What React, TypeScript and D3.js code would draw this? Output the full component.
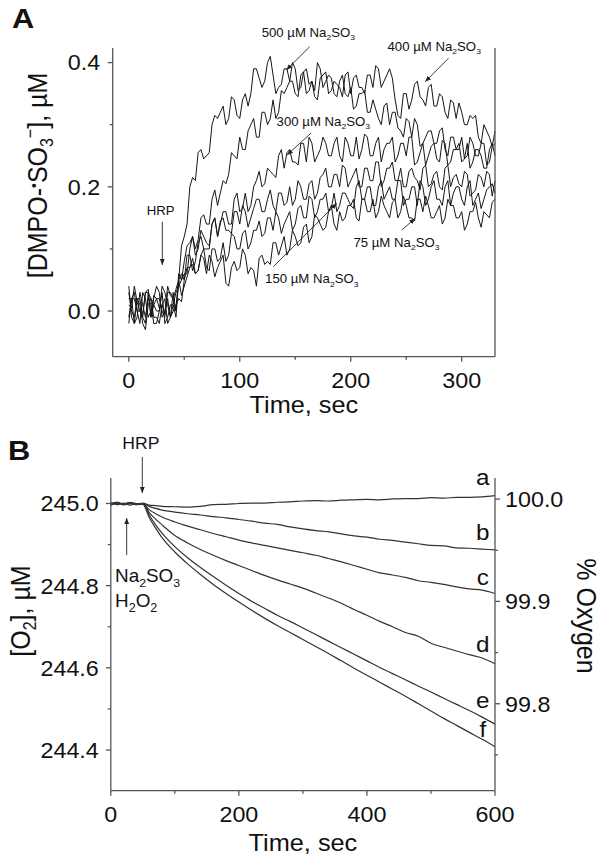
import React from "react";
import * as d3 from "d3";

// ---------- Panel A : DMPO-SO3 radical vs time (sec) ----------
// readings on the 5 s grid
const tA = [
  0, 5, 10, 15, 20, 25, 30, 35, 40, 45,
  50, 55, 60, 65, 70, 75, 80, 85, 90, 95,
  100, 105, 110, 115, 120, 125, 130, 135, 140, 145,
  150, 155, 160, 165, 170, 175, 180, 185, 190, 195,
  200, 205, 210, 215, 220, 225, 230, 235, 240, 245,
  250, 255, 260, 265, 270, 275, 280, 285, 290, 295,
  300, 305, 310, 315, 320, 325, 330,
];
// readings between the grid points (the noise of the traces)
const tAh = [
  2.5, 7.5, 12.5, 17.5, 22.5, 27.5, 32.5, 37.5, 42.5, 47.5,
  52.5, 57.5, 62.5, 67.5, 72.5, 77.5, 82.5, 87.5, 92.5, 97.5,
  102.5, 107.5, 112.5, 117.5, 122.5, 127.5, 132.5, 137.5, 142.5, 147.5,
  152.5, 157.5, 162.5, 167.5, 172.5, 177.5, 182.5, 187.5, 192.5, 197.5,
  202.5, 207.5, 212.5, 217.5, 222.5, 227.5, 232.5, 237.5, 242.5, 247.5,
  252.5, 257.5, 262.5, 267.5, 272.5, 277.5, 282.5, 287.5, 292.5, 297.5,
  302.5, 307.5, 312.5, 317.5, 322.5, 327.5,
];

const c500 = [
  0.02, -0.02, 0.03, -0.01, 0.01, -0.02, 0.03, -0.01, 0.01, 0.05,
  0.12, 0.2, 0.21, 0.26, 0.25, 0.3, 0.31, 0.33, 0.31, 0.34,
  0.31, 0.35, 0.35, 0.39, 0.36, 0.4, 0.38, 0.36, 0.39, 0.37,
  0.39, 0.36, 0.39, 0.37, 0.4, 0.36, 0.38, 0.35, 0.37, 0.35,
  0.36, 0.33, 0.35, 0.32, 0.34, 0.31, 0.33, 0.3, 0.32, 0.29,
  0.31, 0.28, 0.3, 0.27, 0.29, 0.27, 0.29, 0.26, 0.28, 0.26,
  0.28, 0.25, 0.27, 0.25, 0.27, 0.24, 0.27,
];
const c500h = [
  0.02, -0.01, 0.01, 0.02, -0.02, 0.0, -0.02, 0.01, -0.01, 0.105,
  0.14, 0.215, 0.255, 0.245, 0.255, 0.315, 0.32, 0.3, 0.345, 0.315,
  0.34, 0.33, 0.39, 0.375, 0.37, 0.41, 0.35, 0.365, 0.39, 0.4,
  0.355, 0.385, 0.365, 0.355, 0.39, 0.37, 0.375, 0.345, 0.38, 0.345,
  0.325, 0.35, 0.355, 0.32, 0.325, 0.3, 0.335, 0.32, 0.295, 0.28,
  0.305, 0.31, 0.265, 0.28, 0.29, 0.27, 0.295, 0.25, 0.28, 0.26,
  0.245, 0.28, 0.25, 0.27, 0.235, 0.265,
];
const c400 = [
  -0.01, 0.03, -0.02, 0.02, 0.0, 0.04, -0.01, 0.02, 0.01, 0.04,
  0.06, 0.1, 0.1, 0.15, 0.14, 0.18, 0.17, 0.21, 0.22, 0.25,
  0.28, 0.26, 0.3, 0.28, 0.32, 0.3, 0.34, 0.32, 0.35, 0.37,
  0.35, 0.38, 0.35, 0.37, 0.34, 0.38, 0.35, 0.37, 0.36, 0.38,
  0.35, 0.38, 0.36, 0.38, 0.36, 0.39, 0.37, 0.39, 0.34, 0.31,
  0.35, 0.34, 0.37, 0.34, 0.36, 0.33, 0.35, 0.32, 0.34, 0.31,
  0.32, 0.3, 0.31, 0.28, 0.3, 0.28, 0.29,
];
const c400h = [
  0.02, 0.0, 0.03, -0.01, 0.02, 0.03, 0.0, -0.01, 0.03, 0.05,
  0.06, 0.12, 0.115, 0.155, 0.14, 0.195, 0.19, 0.205, 0.255, 0.245,
  0.26, 0.29, 0.31, 0.28, 0.32, 0.31, 0.31, 0.355, 0.36, 0.37,
  0.345, 0.385, 0.355, 0.345, 0.375, 0.385, 0.355, 0.365, 0.345, 0.385,
  0.375, 0.36, 0.35, 0.38, 0.395, 0.36, 0.38, 0.375, 0.315, 0.35,
  0.325, 0.365, 0.345, 0.33, 0.365, 0.33, 0.345, 0.31, 0.335, 0.335,
  0.3, 0.315, 0.315, 0.27, 0.29, 0.265,
];
const c300 = [
  0.03, -0.01, 0.02, -0.02, 0.02, 0.0, 0.04, 0.01, 0.03, 0.05,
  0.05, 0.09, 0.08, 0.12, 0.1, 0.14, 0.12, 0.16, 0.14, 0.18,
  0.16, 0.19, 0.17, 0.21, 0.2, 0.23, 0.22, 0.25, 0.23, 0.26,
  0.24, 0.27, 0.24, 0.27, 0.25, 0.28, 0.25, 0.27, 0.25, 0.28,
  0.25, 0.28, 0.26, 0.28, 0.25, 0.28, 0.26, 0.27, 0.24, 0.27,
  0.25, 0.28, 0.24, 0.27, 0.25, 0.27, 0.24, 0.27, 0.24, 0.26,
  0.24, 0.27, 0.24, 0.26, 0.23, 0.26, 0.25,
];
const c300h = [
  0.0, 0.02, -0.01, 0.03, 0.01, 0.0, 0.03, -0.01, 0.0, 0.06,
  0.09, 0.065, 0.11, 0.1, 0.1, 0.15, 0.14, 0.16, 0.14, 0.19,
  0.165, 0.16, 0.2, 0.225, 0.205, 0.225, 0.215, 0.26, 0.255, 0.24,
  0.235, 0.27, 0.28, 0.24, 0.26, 0.27, 0.25, 0.28, 0.24, 0.27,
  0.25, 0.245, 0.285, 0.25, 0.27, 0.24, 0.27, 0.28, 0.25, 0.27,
  0.28, 0.235, 0.255, 0.235, 0.265, 0.245, 0.275, 0.235, 0.26, 0.27,
  0.245, 0.23, 0.26, 0.25, 0.23, 0.27,
];
const c200 = [
  -0.02, 0.02, 0.0, 0.03, -0.01, 0.02, 0.0, 0.03, 0.02, 0.06,
  0.08, 0.11, 0.09, 0.13, 0.11, 0.14, 0.12, 0.15, 0.13, 0.16,
  0.14, 0.16, 0.15, 0.18, 0.16, 0.18, 0.17, 0.19, 0.17, 0.2,
  0.18, 0.2, 0.18, 0.21, 0.19, 0.22, 0.2, 0.22, 0.2, 0.23,
  0.21, 0.23, 0.2, 0.23, 0.21, 0.24, 0.21, 0.23, 0.21, 0.23,
  0.2, 0.23, 0.21, 0.23, 0.2, 0.22, 0.2, 0.23, 0.2, 0.22,
  0.2, 0.22, 0.19, 0.22, 0.2, 0.22, 0.21,
];
const c200h = [
  0.02, 0.0, -0.01, 0.03, 0.01, 0.02, -0.01, 0.03, 0.0, 0.05,
  0.105, 0.12, 0.1, 0.12, 0.105, 0.15, 0.145, 0.13, 0.125, 0.16,
  0.17, 0.135, 0.165, 0.18, 0.16, 0.195, 0.16, 0.19, 0.175, 0.17,
  0.21, 0.18, 0.205, 0.18, 0.215, 0.23, 0.2, 0.22, 0.235, 0.2,
  0.22, 0.2, 0.23, 0.21, 0.24, 0.2, 0.23, 0.24, 0.21, 0.2,
  0.225, 0.215, 0.195, 0.235, 0.205, 0.225, 0.195, 0.235, 0.215, 0.205,
  0.225, 0.185, 0.195, 0.215, 0.225, 0.185,
];
const c150 = [
  0.01, 0.04, 0.0, 0.03, -0.01, 0.02, 0.01, 0.04, 0.02, 0.05,
  0.04, 0.07, 0.06, 0.09, 0.07, 0.1, 0.08, 0.11, 0.09, 0.12,
  0.1, 0.13, 0.11, 0.13, 0.12, 0.15, 0.13, 0.15, 0.14, 0.16,
  0.14, 0.17, 0.15, 0.18, 0.16, 0.18, 0.16, 0.19, 0.17, 0.19,
  0.17, 0.2, 0.18, 0.2, 0.17, 0.2, 0.18, 0.2, 0.18, 0.21,
  0.18, 0.2, 0.17, 0.2, 0.18, 0.21, 0.18, 0.2, 0.17, 0.2,
  0.18, 0.2, 0.17, 0.19, 0.18, 0.2, 0.19,
];
const c150h = [
  0.005, 0.015, -0.005, 0.035, 0.025, 0.005, -0.005, 0.025, 0.035, 0.025,
  0.055, 0.075, 0.065, 0.1, 0.065, 0.1, 0.085, 0.08, 0.125, 0.1,
  0.125, 0.1, 0.13, 0.145, 0.125, 0.15, 0.16, 0.125, 0.15, 0.13,
  0.165, 0.15, 0.185, 0.15, 0.18, 0.19, 0.165, 0.16, 0.19, 0.18,
  0.165, 0.21, 0.18, 0.2, 0.17, 0.21, 0.19, 0.18, 0.21, 0.17,
  0.18, 0.2, 0.21, 0.17, 0.2, 0.18, 0.17, 0.21, 0.19, 0.2,
  0.17, 0.21, 0.18, 0.165, 0.195, 0.205,
];
const c75 = [
  0.04, -0.02, 0.01, -0.03, 0.02, -0.01, 0.01, -0.02, 0.0, 0.02,
  0.05, 0.07, 0.06, 0.09, 0.06, 0.08, 0.07, 0.09, 0.04, 0.08,
  0.07, 0.09, 0.07, 0.04, 0.09, 0.08, 0.11, 0.09, 0.12, 0.1,
  0.12, 0.11, 0.14, 0.12, 0.15, 0.13, 0.16, 0.14, 0.16, 0.15,
  0.17, 0.15, 0.18, 0.16, 0.18, 0.16, 0.17, 0.15, 0.18, 0.16,
  0.17, 0.15, 0.18, 0.16, 0.17, 0.15, 0.17, 0.15, 0.17, 0.15,
  0.16, 0.14, 0.16, 0.15, 0.16, 0.15, 0.18,
];
const c75h = [
  -0.01, 0.02, -0.02, 0.01, -0.01, -0.02, 0.02, -0.01, 0.01, 0.015,
  0.07, 0.085, 0.065, 0.085, 0.09, 0.055, 0.08, 0.045, 0.07, 0.065,
  0.1, 0.06, 0.065, 0.085, 0.075, 0.075, 0.11, 0.105, 0.09, 0.13,
  0.105, 0.135, 0.11, 0.155, 0.14, 0.135, 0.17, 0.13, 0.145, 0.17,
  0.18, 0.145, 0.18, 0.16, 0.15, 0.185, 0.16, 0.175, 0.15, 0.185,
  0.15, 0.145, 0.18, 0.185, 0.15, 0.16, 0.14, 0.18, 0.17, 0.15,
  0.13, 0.16, 0.175, 0.135, 0.155, 0.175,
];
const seriesA = [
  [c500, c500h], [c400, c400h], [c300, c300h],
  [c200, c200h], [c150, c150h], [c75, c75h],
];

const xTicksA = [0, 100, 200, 300];
const xMinorA = [50, 150, 250];
const yTicksA = [0, 0.2, 0.4];
const yMinorA = [0.1, 0.3];

// ---------- Panel B : [O2] vs time (sec) ----------
const tB = [
  0, 10, 20, 30, 40, 50, 60, 70, 80,
  100, 120, 140, 160, 180, 200, 220, 240, 260, 280, 300, 320, 340,
  360, 380, 400, 420, 440, 460, 480, 500, 520, 540, 560, 580, 600,
];
const oA = [
  245.0, 245.003, 244.998, 245.002, 244.999, 245.001, 244.996, 244.995, 244.993,
  244.992, 244.991, 244.993, 244.997, 244.998, 245.0, 245.001, 245.001, 245.003,
  245.004, 245.006, 245.007, 245.006, 245.008, 245.009, 245.01, 245.009, 245.011,
  245.012, 245.012, 245.014, 245.013, 245.015, 245.015, 245.016, 245.019,
];
const oB = [
  244.998, 245.003, 244.997, 245.001, 244.998, 245.0, 244.993, 244.988, 244.984,
  244.979, 244.975, 244.972, 244.968, 244.965, 244.961, 244.957, 244.952, 244.949,
  244.943, 244.938, 244.934, 244.931, 244.926, 244.921, 244.918, 244.913, 244.91,
  244.906, 244.902, 244.898, 244.897, 244.892, 244.891, 244.889, 244.887,
];
const oC = [
  245.002, 244.997, 245.001, 244.996, 245.0, 245.0, 244.985, 244.975, 244.967,
  244.955, 244.945, 244.936, 244.927, 244.919, 244.911, 244.904, 244.898, 244.892,
  244.886, 244.88, 244.874, 244.866, 244.858, 244.849, 244.84, 244.831, 244.826,
  244.82, 244.812, 244.808, 244.803, 244.797, 244.792, 244.789, 244.781,
];
const oD = [
  244.997, 245.002, 244.998, 245.001, 244.997, 245.0, 244.978, 244.962, 244.948,
  244.922, 244.904, 244.888, 244.874, 244.861, 244.849, 244.837, 244.825, 244.814,
  244.804, 244.794, 244.782, 244.77, 244.757, 244.742, 244.728, 244.713, 244.7,
  244.686, 244.677, 244.66, 244.65, 244.641, 244.632, 244.624, 244.61,
];
const oE = [
  244.998, 245.002, 244.999, 245.003, 245.0, 245.0, 244.972, 244.948, 244.928,
  244.895, 244.868, 244.844, 244.822, 244.801, 244.781, 244.762, 244.745, 244.728,
  244.713, 244.697, 244.681, 244.665, 244.649, 244.633, 244.617, 244.601, 244.586,
  244.571, 244.556, 244.541, 244.526, 244.511, 244.496, 244.48, 244.463,
];
const oF = [
  244.996, 245.001, 244.997, 245.0, 244.998, 244.998, 244.966, 244.94, 244.917,
  244.882, 244.853, 244.827, 244.803, 244.781, 244.76, 244.74, 244.721, 244.703,
  244.686, 244.669, 244.652, 244.635, 244.617, 244.599, 244.582, 244.565, 244.548,
  244.531, 244.513, 244.495, 244.477, 244.46, 244.443, 244.426, 244.408,
];
const seriesB = [oA, oB, oC, oD, oE, oF];
const namesB = ["a", "b", "c", "d", "e", "f"];
// letter anchors for each curve: [time, O2]
const labelPosB = [
  [581, 245.045], [581, 244.911], [581, 244.8015],
  [581, 244.638], [581, 244.502], [581, 244.432],
];

const xTicksB = [0, 200, 400, 600];
const xMinorB = [100, 300, 500];
const yTicksB = [244.4, 244.6, 244.8, 245.0];
const yMinorB = [244.5, 244.7, 244.9];
const yTicksB2 = [99.8, 99.9, 100.0];
const yMinorB2 = [99.75, 99.85, 99.95];

const FONT = "'Liberation Sans', Arial, Helvetica, sans-serif";
const AX = "#555";
const INK = "#111";

const Txt = ({ x, y, size, anchor = "start", rot = 0, sx = 1.1, weight = 400, children }: any) => (
  <text
    transform={`translate(${x},${y}) scale(${sx},1) rotate(${rot})`}
    fontSize={size}
    fontFamily={FONT}
    textAnchor={anchor}
    fontWeight={weight}
    fill={INK}
  >
    {children}
  </text>
);

const NaSO3 = ({ s }: any) => (
  <>
    Na<tspan dy={s * 0.28} fontSize={s * 0.65}>2</tspan>
    <tspan dy={-s * 0.28}>SO</tspan>
    <tspan dy={s * 0.28} fontSize={s * 0.65}>3</tspan>
  </>
);

const Arrow = ({ x1, y1, x2, y2 }: any) => (
  <line x1={x1} y1={y1} x2={x2} y2={y2} stroke="#222" strokeWidth={0.9} markerEnd="url(#ah)" />
);

// merge grid readings with the in-between readings, in time order
const mergeA = (full: number[], half: number[]) => {
  const pts: [number, number][] = [];
  full.forEach((v, i) => {
    pts.push([tA[i], v]);
    if (i < half.length) pts.push([tAh[i], half[i]]);
  });
  return pts;
};

export default function App() {
  const fmt = d3.format(".1f");

  const xA = d3.scaleLinear().domain([-14.5, 330]).range([112.7, 495]);
  const yA = d3.scaleLinear().domain([-0.0735, 0.4235]).range([356.7, 48]);
  const lineA = d3
    .line<[number, number]>()
    .x((d) => xA(d[0]))
    .y((d) => yA(d[1]));

  const xB = d3.scaleLinear().domain([0, 600]).range([110.8, 495]);
  const yB = d3.scaleLinear().domain([244.301, 245.062]).range([790.7, 478]);
  const yB2 = d3.scaleLinear().domain([99.715, 100.0206]).range([790.7, 478]);
  const lineB = d3
    .line<number>()
    .x((_, i) => xB(tB[i]))
    .y((d) => yB(d))
    .curve(d3.curveMonotoneX);

  const [a0, a1] = yA.range();
  const [b0, b1] = yB.range();
  const [al, ar] = xA.range();
  const [bl, br] = xB.range();

  return (
    <svg
      width={602}
      height={863}
      style={{ position: "absolute", left: 0, top: 0, background: "#fff" }}
    >
      <defs>
        <marker
          id="ah"
          viewBox="0 0 10 10"
          refX="10"
          refY="5"
          markerWidth="6"
          markerHeight="6"
          markerUnits="userSpaceOnUse"
          orient="auto"
        >
          <path d="M0,1 L10,5 L0,9 z" fill="#222" />
        </marker>
      </defs>

      {/* ===== Panel A ===== */}
      <Txt x={12} y={28} size={28} weight={700}>A</Txt>
      <g fill="none" stroke="#161616" strokeWidth={1} strokeLinejoin="round">
        {seriesA.map(([f, h], i) => (
          <path key={i} d={lineA(mergeA(f, h)) || ""} />
        ))}
      </g>
      <g stroke={AX} strokeWidth={1.3}>
        <line x1={al} x2={al} y1={a1} y2={a0} />
        <line x1={ar} x2={ar} y1={a1} y2={a0} />
        <line x1={al} x2={ar} y1={a0} y2={a0} />
        {xTicksA.map((t) => (
          <line key={t} x1={xA(t)} x2={xA(t)} y1={a0} y2={a0 + 5} />
        ))}
        {xMinorA.map((t) => (
          <line key={t} x1={xA(t)} x2={xA(t)} y1={a0} y2={a0 + 3} />
        ))}
        {yTicksA.map((v) => (
          <line key={v} x1={al - 5} x2={al} y1={yA(v)} y2={yA(v)} />
        ))}
        {yMinorA.map((v) => (
          <line key={v} x1={al - 3} x2={al} y1={yA(v)} y2={yA(v)} />
        ))}
      </g>
      {xTicksA.map((t) => (
        <Txt key={t} x={xA(t)} y={388} size={22} sx={1.06} anchor="middle">{t}</Txt>
      ))}
      {yTicksA.map((v) => (
        <Txt key={v} x={al - 12.5} y={yA(v) + 7.9} size={22} sx={1.06} anchor="end">
          {fmt(v)}
        </Txt>
      ))}
      <Txt x={(al + ar) / 2} y={413} size={23} anchor="middle">Time, sec</Txt>
      <Txt x={46.5} y={175.5} size={25} rot={-90} anchor="middle">
        [DMPO-<tspan dy={-7} fontSize={14}>•</tspan>
        <tspan dy={7}>SO</tspan>
        <tspan dy={6} fontSize={16}>3</tspan>
        <tspan dy={-16} fontSize={16}>−</tspan>
        <tspan dy={10}>], µM</tspan>
      </Txt>

      {/* annotations A */}
      <Txt x={xA(119.7)} y={yA(0.4417)} size={12}>500 µM <NaSO3 s={12} /></Txt>
      <Arrow x1={xA(163)} y1={yA(0.4256)} x2={xA(142)} y2={yA(0.3881)} />
      <Txt x={xA(233.1)} y={yA(0.4192)} size={12}>400 µM <NaSO3 s={12} /></Txt>
      <Arrow x1={xA(288.1)} y1={yA(0.407)} x2={xA(267.1)} y2={yA(0.3692)} />
      <Txt x={xA(133.2)} y={yA(0.2987)} size={12}>300 µM <NaSO3 s={12} /></Txt>
      <Arrow x1={xA(164.3)} y1={yA(0.2867)} x2={xA(142.6)} y2={yA(0.2512)} />
      <Txt x={xA(16.1)} y={yA(0.1546)} size={12}>HRP</Txt>
      <Arrow x1={xA(30.2)} y1={yA(0.1438)} x2={xA(30.2)} y2={yA(0.0741)} />
      <Txt x={xA(122.8)} y={yA(0.0447)} size={12}>150 µM <NaSO3 s={12} /></Txt>
      <Arrow x1={xA(130.3)} y1={yA(0.0714)} x2={xA(187.5)} y2={yA(0.1735)} />
      <Txt x={xA(202.4)} y={yA(0.1036)} size={12}>75 µM <NaSO3 s={12} /></Txt>
      <Arrow x1={xA(246.1)} y1={yA(0.1305)} x2={xA(258.1)} y2={yA(0.1494)} />

      {/* ===== Panel B ===== */}
      <Txt x={8} y={460} size={28} weight={700}>B</Txt>
      <g fill="none" stroke="#333" strokeWidth={1.2} strokeLinejoin="round">
        {seriesB.map((s, i) => (
          <path key={i} d={lineB(s) || ""} />
        ))}
      </g>
      <g stroke={AX} strokeWidth={1.3}>
        <line x1={bl} x2={bl} y1={b1} y2={b0} />
        <line x1={br} x2={br} y1={b1} y2={b0} />
        <line x1={bl} x2={br} y1={b0} y2={b0} />
        {xTicksB.map((t) => (
          <line key={t} x1={xB(t)} x2={xB(t)} y1={b0} y2={b0 + 5} />
        ))}
        {xMinorB.map((t) => (
          <line key={t} x1={xB(t)} x2={xB(t)} y1={b0} y2={b0 + 3} />
        ))}
        {yTicksB.map((v) => (
          <line key={v} x1={bl - 5} x2={bl} y1={yB(v)} y2={yB(v)} />
        ))}
        {yMinorB.map((v) => (
          <line key={v} x1={bl - 3} x2={bl} y1={yB(v)} y2={yB(v)} />
        ))}
        {yTicksB2.map((v) => (
          <line key={v} x1={br} x2={br + 5} y1={yB2(v)} y2={yB2(v)} />
        ))}
        {yMinorB2.map((v) => (
          <line key={v} x1={br} x2={br + 3} y1={yB2(v)} y2={yB2(v)} />
        ))}
      </g>
      {xTicksB.map((t) => (
        <Txt key={t} x={xB(t)} y={821.7} size={22} sx={1.06} anchor="middle">{t}</Txt>
      ))}
      {yTicksB.map((v) => (
        <Txt key={v} x={bl - 12} y={yB(v) + 7.9} size={22} sx={1.06} anchor="end">
          {fmt(v)}
        </Txt>
      ))}
      {yTicksB2.map((v) => (
        <Txt key={v} x={br + 10} y={yB2(v) + 7.9} size={22} sx={1.06}>
          {fmt(v)}
        </Txt>
      ))}
      <Txt x={(bl + br) / 2} y={851} size={23} anchor="middle">Time, sec</Txt>
      <Txt x={30} y={611} size={25} rot={-90} anchor="middle">
        [O<tspan dy={5} fontSize={16}>2</tspan>
        <tspan dy={-5}>], µM</tspan>
      </Txt>
      <Txt x={577} y={616} size={25} rot={90} anchor="middle">% Oxygen</Txt>

      {namesB.map((n, i) => (
        <Txt key={n} x={xB(labelPosB[i][0])} y={yB(labelPosB[i][1])} size={22} anchor="middle">
          {n}
        </Txt>
      ))}

      {/* annotations B */}
      <Txt x={xB(18)} y={yB(245.1316)} size={16}>HRP</Txt>
      <Arrow x1={xB(49.2)} y1={yB(245.1129)} x2={xB(49.2)} y2={yB(245.0253)} />
      <Txt x={xB(6.6)} y={yB(244.8095)} size={18} sx={1.05}><NaSO3 s={18} /></Txt>
      <Txt x={xB(6.6)} y={yB(244.7487)} size={18} sx={1.05}>
        H<tspan dy={5} fontSize={12}>2</tspan>
        <tspan dy={-5}>O</tspan>
        <tspan dy={5} fontSize={12}>2</tspan>
      </Txt>
      <Arrow x1={xB(24.8)} y1={yB(244.8745)} x2={xB(24.8)} y2={yB(244.9645)} />
    </svg>
  );
}
